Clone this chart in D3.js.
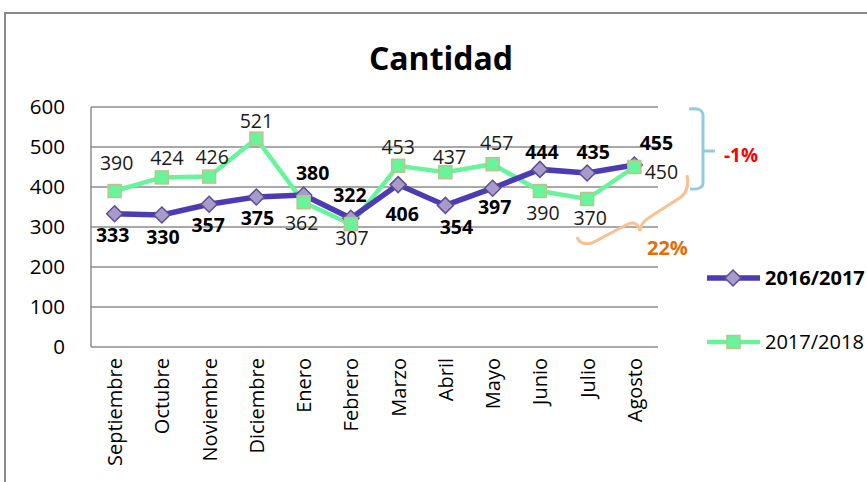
<!DOCTYPE html>
<head>
  <meta charset="utf-8">
  <script src="https://d3js.org/d3.v7.min.js"></script>
  <style>
    body { margin: 0; background: #fff; }
    text { font-family: "Open Sans", "Noto Sans", sans-serif; }
  </style>
</head>
<body>
  <svg width="867" height="482"></svg>
  <script>
  // Data
  var months = ["Septiembre", "Octubre", "Noviembre", "Diciembre", "Enero", "Febrero",
                "Marzo", "Abril", "Mayo", "Junio", "Julio", "Agosto"];
  var serie1 = [333, 330, 357, 375, 380, 322, 406, 354, 397, 444, 435, 455];   // 2016/2017
  var serie2 = [390, 424, 426, 521, 362, 307, 453, 437, 457, 390, 370, 450];   // 2017/2018
  var yTicks = [0, 100, 200, 300, 400, 500, 600];
  var names = ["2016/2017", "2017/2018"];

  // label offsets from the marker (label centre), like excel placed them
  var off1 = [[-2, 21], [1, 22], [-1, 21], [1, 21], [9, -22], [-1, -23],
              [4, 30], [11, 22], [2, 19], [2, -17], [6, -21], [22, -22]];
  var off2 = [[2, -28], [5, -19], [3, -19], [0, -17], [-2, 21], [1, 14],
              [0, -19], [4, -15], [4, -21], [3, 22], [3, 19], [27, 5]];

  var svg = d3.select('svg');
  var margin = {top: 107, left: 91, right: 209, bottom: 135};
  var width = 867 - margin.left - margin.right;
  var height = 482 - margin.top - margin.bottom;

  // outer frame
  svg.append('path')
    .attr('d', 'M5,482 V13 H867')
    .attr('fill', 'none').attr('stroke', '#8a8a8a').attr('stroke-width', 2);

  svg.append('text')
    .attr('x', 441).attr('y', 70)
    .attr('text-anchor', 'middle')
    .attr('font-size', 32).attr('font-weight', 'bold')
    .text('Cantidad');

  var x = d3.scalePoint().domain(months).range([0, width]).padding(0.5);
  var y = d3.scaleLinear().domain([0, 600]).range([height, 0]);

  var g = svg.append('g')
    .attr('transform', 'translate(' + margin.left + ',' + margin.top + ')');

  // gridlines
  g.selectAll('.grid').data(yTicks).enter().append('line')
    .attr('x1', 0).attr('x2', width)
    .attr('y1', function(d) { return y(d); })
    .attr('y2', function(d) { return y(d); })
    .attr('stroke', '#8c8c8c').attr('stroke-width', 1.5);
  g.append('line')
    .attr('x1', 0).attr('x2', 0).attr('y1', 0).attr('y2', height)
    .attr('stroke', '#8c8c8c').attr('stroke-width', 1.5);

  // y axis
  var yAxis = d3.axisLeft(y).tickValues(yTicks).tickSize(0).tickPadding(26);
  var ya = g.append('g').call(yAxis);
  ya.select('.domain').remove();
  ya.selectAll('text').attr('font-size', 20.5).attr('fill', '#000')
    .style('font-family', '"Open Sans", sans-serif');

  // x axis
  var xAxis = d3.axisBottom(x).tickSize(0);
  var xa = g.append('g').attr('transform', 'translate(0,' + height + ')').call(xAxis);
  xa.select('.domain').remove();
  xa.selectAll('text')
    .attr('font-size', 20).attr('fill', '#000')
    .style('font-family', '"Open Sans", sans-serif')
    .attr('text-anchor', 'end')
    .attr('transform', 'rotate(-90)')
    .attr('x', -11).attr('y', 0).attr('dy', '0.35em');

  var line = d3.line()
    .x(function(d, i) { return x(months[i]); })
    .y(function(d) { return y(d); });

  // 2017/2018 line
  g.append('path').datum(serie2)
    .attr('d', line).attr('fill', 'none')
    .attr('stroke', '#66f59b').attr('stroke-width', 4.5);
  // 2016/2017 line
  g.append('path').datum(serie1)
    .attr('d', line).attr('fill', 'none')
    .attr('stroke', '#4d3bb4').attr('stroke-width', 5.5);

  var diamond = 'M0,-8 L8,0 L0,8 L-8,0 Z';

  g.selectAll('.m1').data(serie1).enter().append('path')
    .attr('d', diamond)
    .attr('transform', function(d, i) { return 'translate(' + x(months[i]) + ',' + y(d) + ')'; })
    .attr('fill', '#a89bc9').attr('stroke', '#5e4d92').attr('stroke-width', 1.5);

  g.selectAll('.m2').data(serie2).enter().append('rect')
    .attr('x', function(d, i) { return x(months[i]) - 6.5; })
    .attr('y', function(d) { return y(d) - 6.5; })
    .attr('width', 13).attr('height', 13)
    .attr('fill', '#66f59b').attr('stroke', '#bcc48e').attr('stroke-width', 1.5);

  // data labels
  function labels(data, off, bold) {
    g.selectAll(null).data(data).enter().append('text')
      .attr('x', function(d, i) { return x(months[i]) + off[i][0]; })
      .attr('y', function(d, i) { return y(d) + off[i][1]; })
      .attr('dy', '0.35em')
      .attr('text-anchor', 'middle')
      .attr('font-size', bold ? 19.5 : 19.5)
      .attr('font-weight', bold ? 'bold' : 'normal')
      .attr('fill', bold ? '#000' : '#1a1a1a')
      .text(function(d) { return d; });
  }
  labels(serie2, off2, false);
  labels(serie1, off1, true);

  // annotations
  svg.append('path')
    .attr('d', 'M689,109 Q703,107 703,116 V183 Q703,190 690,189 M703,151 H715')
    .attr('fill', 'none').attr('stroke', '#92cddf').attr('stroke-width', 3);
  svg.append('text')
    .attr('x', 724).attr('y', 162)
    .attr('font-size', 19).attr('font-weight', 'bold').attr('fill', '#ff0000')
    .text('-1%');

  svg.append('path')
    .attr('d', 'M577,237 Q580,246 592,243 L628,224 Q637,220 640,231 Q641,222 650,217 L681,197 Q690,190 687,175')
    .attr('fill', 'none').attr('stroke', '#f9c091').attr('stroke-width', 3);
  svg.append('text')
    .attr('x', 647).attr('y', 255)
    .attr('font-size', 20).attr('font-weight', 'bold').attr('fill', '#e46c0a')
    .text('22%');

  // legend
  var leg = svg.append('g');
  leg.append('line').attr('x1', 707).attr('x2', 760).attr('y1', 278).attr('y2', 278)
    .attr('stroke', '#4d3bb4').attr('stroke-width', 5.5);
  leg.append('path').attr('d', diamond).attr('transform', 'translate(733,278)')
    .attr('fill', '#a89bc9').attr('stroke', '#5e4d92').attr('stroke-width', 1.5);
  leg.append('text').attr('x', 765).attr('y', 285)
    .attr('font-size', 20).attr('font-weight', 'bold').text(names[0]);

  leg.append('line').attr('x1', 707).attr('x2', 760).attr('y1', 342).attr('y2', 342)
    .attr('stroke', '#66f59b').attr('stroke-width', 4.5);
  leg.append('rect').attr('x', 727).attr('y', 335.5).attr('width', 13).attr('height', 13)
    .attr('fill', '#66f59b').attr('stroke', '#bcc48e').attr('stroke-width', 1.5);
  leg.append('text').attr('x', 765).attr('y', 349)
    .attr('font-size', 20).text(names[1]);
  </script>
</body>
